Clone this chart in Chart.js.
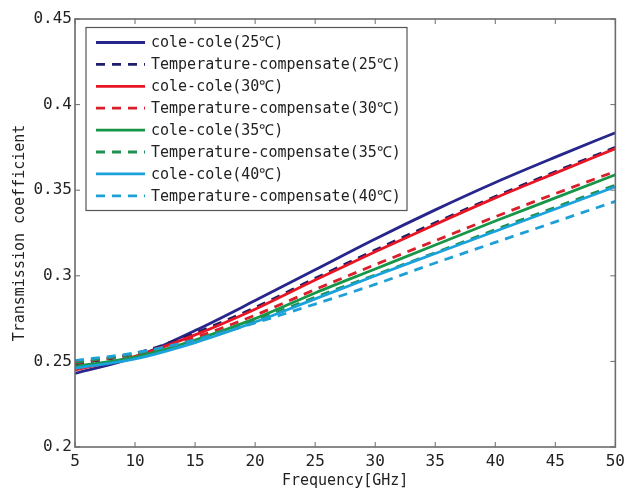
<!DOCTYPE html>
<html>
<head>
<meta charset="utf-8">
<script src="https://cdn.jsdelivr.net/npm/chart.js@4.4.1/dist/chart.umd.min.js"></script>
<style>
  body { margin: 0; background: #fff; }
  #wrap { width: 630px; height: 493px; }
</style>
</head>
<body>
<div id="wrap"><canvas id="myChart" width="630" height="493"></canvas></div>
<script>
// tần số (GHz)
var freq = [5, 10, 15, 20, 25, 30, 35, 40, 45, 50];
var xTicks = [5, 10, 15, 20, 25, 30, 35, 40, 45, 50];
var yTicks = [0.2, 0.25, 0.3, 0.35, 0.4, 0.45];

// cole-cole / Temperature-compensate
var cole25 = [0.2430, 0.2525, 0.2680, 0.2855, 0.3035, 0.3215, 0.3385, 0.3545, 0.3693, 0.3836];
var comp25 = [0.2485, 0.2545, 0.2665, 0.2815, 0.2985, 0.3150, 0.3310, 0.3463, 0.3608, 0.3750];
var cole30 = [0.2450, 0.2530, 0.2655, 0.2805, 0.2975, 0.3140, 0.3300, 0.3455, 0.3600, 0.3743];
var comp30 = [0.2490, 0.2545, 0.2640, 0.2770, 0.2920, 0.3065, 0.3205, 0.3345, 0.3480, 0.3610];
var cole35 = [0.2470, 0.2525, 0.2625, 0.2750, 0.2900, 0.3040, 0.3180, 0.3320, 0.3455, 0.3590];
var comp35 = [0.2495, 0.2545, 0.2625, 0.2740, 0.2875, 0.3005, 0.3135, 0.3270, 0.3400, 0.3530];
var cole40 = [0.2460, 0.2515, 0.2610, 0.2730, 0.2865, 0.3000, 0.3130, 0.3260, 0.3390, 0.3520];
var comp40 = [0.2505, 0.2550, 0.2625, 0.2725, 0.2835, 0.2950, 0.3075, 0.3195, 0.3315, 0.3435];

var labels = ['cole-cole(25℃)', 'Temperature-compensate(25℃)',
              'cole-cole(30℃)', 'Temperature-compensate(30℃)',
              'cole-cole(35℃)', 'Temperature-compensate(35℃)',
              'cole-cole(40℃)', 'Temperature-compensate(40℃)'];
var series = [cole25, comp25, cole30, comp30, cole35, comp35, cole40, comp40];
var colors = ['rgb(38, 38, 140)', 'rgb(30, 30, 105)',
              'rgb(232, 22, 36)', 'rgb(218, 30, 42)',
              'rgb(24, 150, 72)', 'rgb(30, 145, 80)',
              'rgb(26, 162, 218)', 'rgb(30, 160, 215)'];

var FONT = '"DejaVu Sans Mono", "Liberation Mono", monospace';
var DASH = [9, 7];

function xy(arr) {
    return arr.map(function (v, i) { return { x: freq[i], y: v }; });
}

var datasets = series.map(function (s, i) {
    return {
        label: labels[i],
        data: xy(s),
        borderColor: colors[i],
        backgroundColor: colors[i],
        borderWidth: 2.8,
        borderDash: i % 2 ? DASH : [],
        pointRadius: 0,
        cubicInterpolationMode: 'monotone',
        order: 20 - i   // sau vẽ đè lên trước, giống matlab
    };
});

// khung + vạch chia hướng vào trong
const framePlugin = {
    id: 'frame',
    afterDraw: function (chart) {
        var ctx = chart.ctx, a = chart.chartArea;
        var x = chart.scales.x, y = chart.scales.y;
        ctx.save();
        ctx.strokeStyle = '#6c6c6c';
        ctx.lineWidth = 1;
        ctx.beginPath();
        x.ticks.forEach(function (t, i) {
            var px = x.getPixelForTick(i);
            ctx.moveTo(px, a.bottom); ctx.lineTo(px, a.bottom - 5);
            ctx.moveTo(px, a.top); ctx.lineTo(px, a.top + 5);
        });
        y.ticks.forEach(function (t, i) {
            var py = y.getPixelForTick(i);
            ctx.moveTo(a.left, py); ctx.lineTo(a.left + 5, py);
            ctx.moveTo(a.right, py); ctx.lineTo(a.right - 5, py);
        });
        ctx.stroke();
        ctx.lineWidth = 1.6;
        ctx.strokeRect(a.left, a.top, a.right - a.left, a.bottom - a.top);
        ctx.restore();
    }
};

// legend trong khung, góc trên trái
const boxLegend = {
    id: 'boxLegend',
    afterDraw: function (chart) {
        var ctx = chart.ctx, a = chart.chartArea;
        var left = a.left + 11, top = a.top + 8.5, w = 321, h = 183, rowH = 21.9;
        ctx.save();
        ctx.fillStyle = '#fff';
        ctx.fillRect(left, top, w, h);
        ctx.strokeStyle = '#555';
        ctx.lineWidth = 1.2;
        ctx.strokeRect(left, top, w, h);
        ctx.font = '15px ' + FONT;
        ctx.textBaseline = 'middle';
        ctx.fillStyle = '#222';
        chart.data.datasets.forEach(function (ds, i) {
            var cy = top + 15 + i * rowH;
            ctx.strokeStyle = ds.borderColor;
            ctx.lineWidth = 2.8;
            ctx.setLineDash(ds.borderDash);
            ctx.beginPath();
            ctx.moveTo(left + 10, cy);
            ctx.lineTo(left + 59, cy);
            ctx.stroke();
            ctx.setLineDash([]);
            ctx.fillText(ds.label, left + 65, cy + 1);
        });
        ctx.restore();
    }
};

var myChart = new Chart(document.getElementById('myChart'), {
    type: 'line',
    data: { datasets: datasets },
    options: {
        responsive: false,
        animation: false,
        layout: { padding: { top: 19, right: 11, left: 0, bottom: 0 } },
        scales: {
            x: {
                type: 'linear',
                min: 5,
                max: 50,
                afterFit: function (s) { s.height = 46; },
                afterBuildTicks: function (s) { s.ticks = xTicks.map(function (v) { return { value: v }; }); },
                grid: { display: false, drawTicks: false },
                border: { display: false },
                ticks: { color: '#222', padding: 5, font: { family: FONT, size: 16 } },
                title: { display: true, text: 'Frequency[GHz]', color: '#222', padding: { top: 0, bottom: 3 }, font: { family: FONT, size: 15 } }
            },
            y: {
                type: 'linear',
                min: 0.2,
                max: 0.45,
                afterFit: function (s) { s.width = 75; },
                afterBuildTicks: function (s) { s.ticks = yTicks.map(function (v) { return { value: v }; }); },
                grid: { display: false, drawTicks: false },
                border: { display: false },
                ticks: {
                    color: '#222', padding: 3, font: { family: FONT, size: 16 },
                    callback: function (v) { return String(Number(v.toFixed(2))); }
                },
                title: { display: true, text: 'Transmission coefficient', color: '#222', padding: { top: 11, bottom: 0 }, font: { family: FONT, size: 15 } }
            }
        },
        plugins: {
            legend: { display: false },
            tooltip: { enabled: false }
        }
    },
    plugins: [framePlugin, boxLegend]
});
</script>
</body>
</html>
